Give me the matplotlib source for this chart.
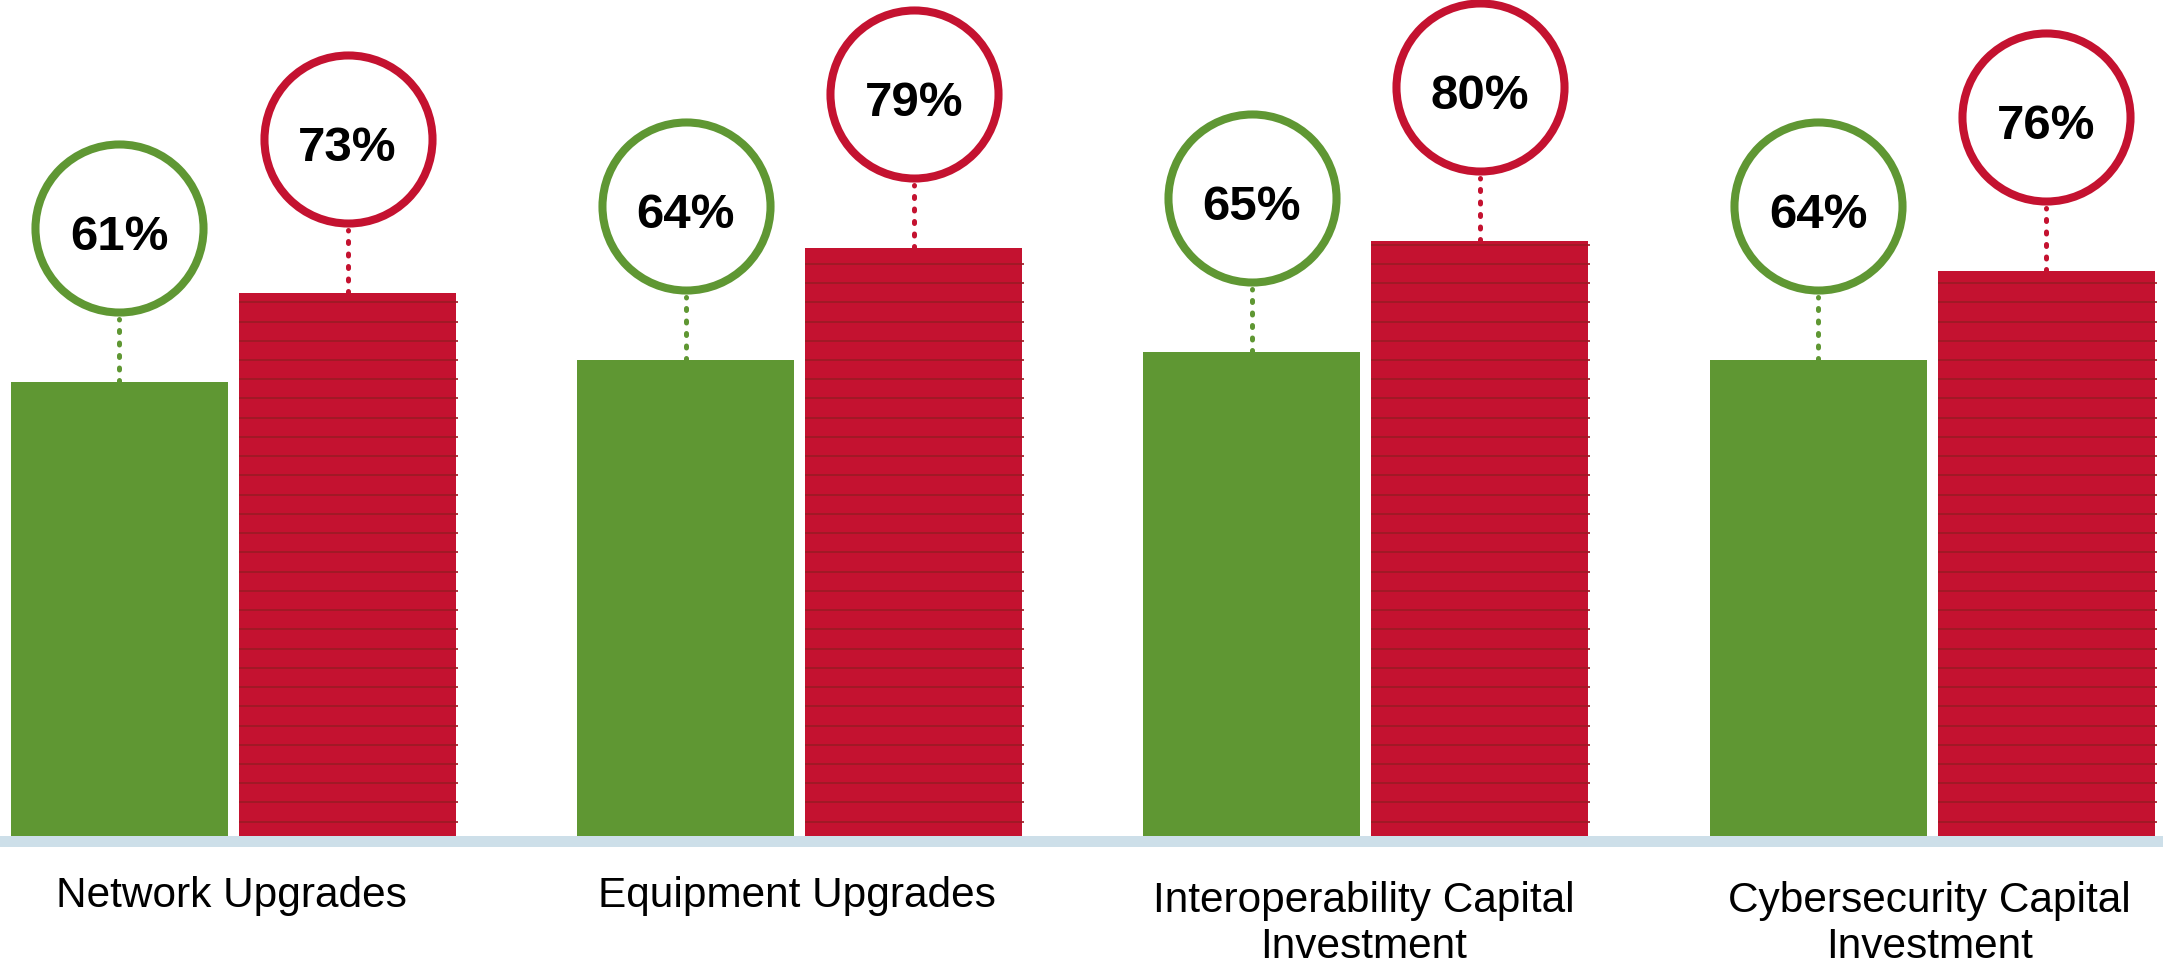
import numpy as np
import matplotlib
matplotlib.use("Agg")
import matplotlib.pyplot as plt

plt.rcParams['font.family'] = ['Liberation Sans', 'DejaVu Sans']

categories = ['Network Upgrades', 'Equipment Upgrades',
              'Interoperability Capital\nInvestment',
              'Cybersecurity Capital\nInvestment']
green_vals = [61, 64, 65, 64]
red_vals = [73, 79, 80, 76]

GREEN = '#5f9733'
RED = '#c41230'
DARK_RED = '#9b1b25'
BASE = '#cddfe9'

# pixel scale: 7.44 px per percentage point, 566.2 px per group
PX = 1 / 7.44
fig = plt.figure(figsize=(21.63, 9.59), dpi=100, facecolor='white')
ax = fig.add_axes([0, 0, 1, 1])
ax.set_xlim(-0.4124, 3.4078)
ax.set_ylim(-16.53, 112.37)
ax.axis('off')

x = np.arange(len(categories))
width = 0.3833
off = 0.2014

ax.bar(x - off, green_vals, width, color=GREEN, zorder=2)
ax.bar(x + off, red_vals, width, color=RED, zorder=2)

# horizontal stripes on the red bars
for xi, v in zip(x, red_vals):
    ys = np.arange(1.92, v, 2.586)
    ax.hlines(ys, xi + off - width / 2, xi + off + width / 2 + 0.0035,
              color=DARK_RED, linewidth=1.2, zorder=3)

# baseline band
ax.axhspan(-11 * PX, 0, color=BASE, zorder=1, lw=0)

# bubbles with dotted connectors
for vals, xs, col in [(green_vals, x - off, GREEN), (red_vals, x + off, RED)]:
    for xi, v in zip(xs, vals):
        cy = v + 154 * PX
        ax.plot([xi, xi], [v, v + 63 * PX], color=col, linewidth=3.6,
                linestyle=(0, (0.4, 2.1)), dash_capstyle='round', zorder=3)
        ax.plot(xi, cy, marker='o', markersize=121, markerfacecolor='white',
                markeredgecolor=col, markeredgewidth=5.8, zorder=4)
        ax.text(xi, cy - 22 * PX, f'{v}%', ha='center', va='baseline',
                fontsize=35.5, fontweight='bold', color='black', zorder=5)

# category labels: first line baseline ~71 px under the axis,
# multi-line text is aligned on its last baseline
for xi, lab in zip(x, categories):
    nlines = lab.count('\n') + 1
    ax.text(xi - 0.004, -(71 + 50.8 * (nlines - 1)) * PX, lab, ha='center',
            va='baseline', fontsize=30.5, color='black', linespacing=1.2)

fig.savefig('out.png', dpi=100, facecolor='white')
